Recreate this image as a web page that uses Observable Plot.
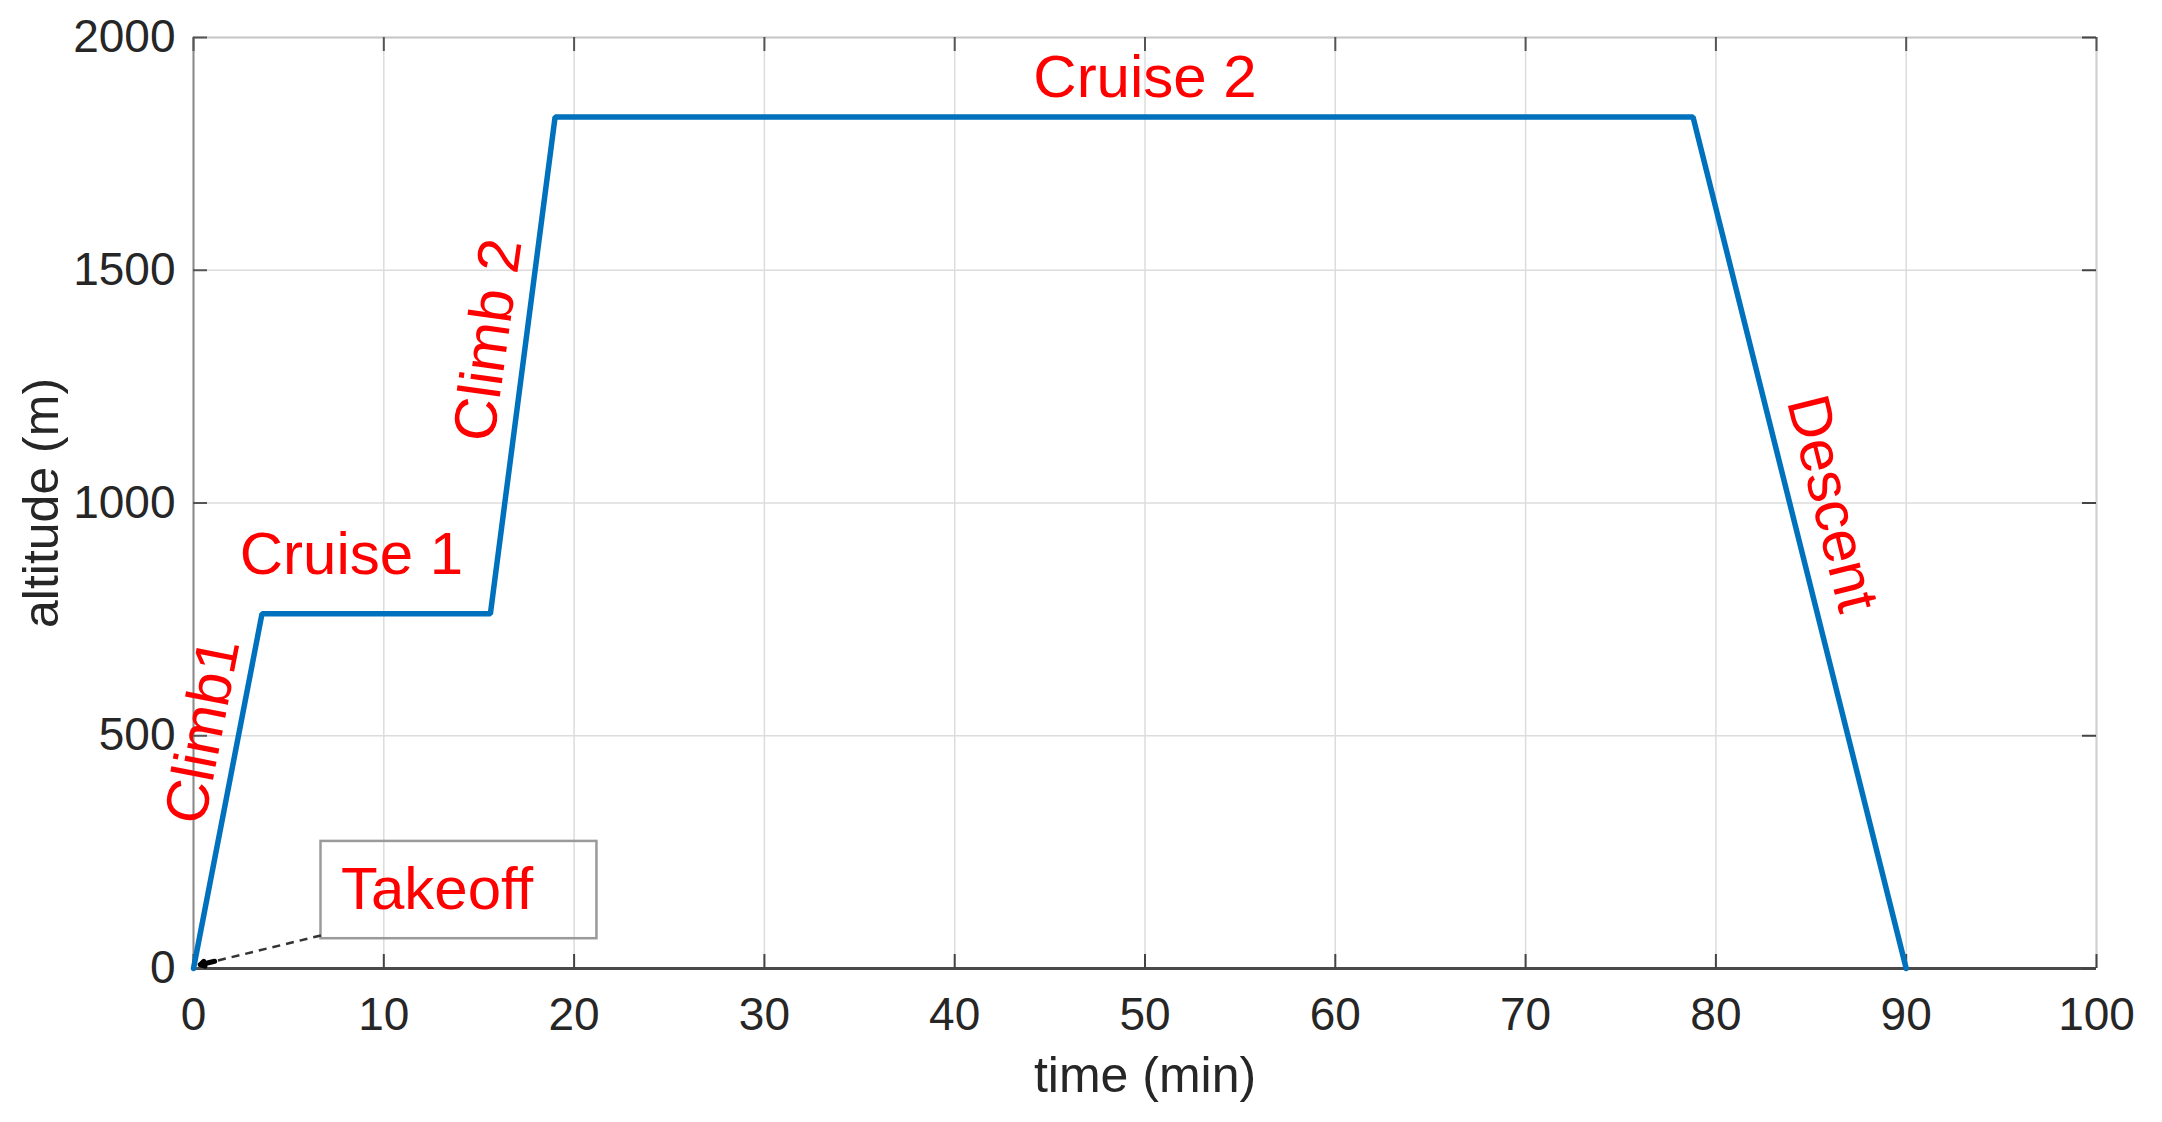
<!DOCTYPE html>
<html>
<head>
<meta charset="utf-8">
<script src="https://cdn.jsdelivr.net/npm/d3@7"></script>
<script src="https://cdn.jsdelivr.net/npm/@observablehq/plot@0.6"></script>
<style>
  html, body { margin: 0; padding: 0; background: #ffffff; }
  svg { display: block; }
</style>
</head>
<body>
<script>
// ---- data ----
const time = [0, 3.6, 15.6, 19.0, 78.8, 90.0];          // min
const altitude = [0, 762, 762, 1829, 1829, 0];          // m
const xTicks = [0, 10, 20, 30, 40, 50, 60, 70, 80, 90, 100];
const yTicks = [0, 500, 1000, 1500, 2000];
const phaseLabels = ["Climb1", "Cruise 1", "Climb 2", "Cruise 2", "Descent"];
const phaseX = [0.5, 8.3, 15.5, 50.0, 86.1];
const phaseY = [510, 889, 1350, 1913, 999];
const phaseAngle = [-79, 0, -82, 0, 76];
const takeoffLabel = ["Takeoff"];
const takeoffBoxX = [6.7, 21.2];
const takeoffBoxY = [64, 273];
const takeoffTextAt = [12.8, 168];
const takeoffArrowFrom = [6.7, 71];
const takeoffArrowTo = [0.35, 8];

// ---- derived tables ----
const profile = time.map((t, i) => ({t, a: altitude[i]}));
const labels = phaseLabels.map((s, i) => ({s, x: phaseX[i], y: phaseY[i], r: phaseAngle[i]}));
const box = [{x1: takeoffBoxX[0], x2: takeoffBoxX[1], y1: takeoffBoxY[0], y2: takeoffBoxY[1]}];
const arrowLine = [{x1: takeoffArrowFrom[0], y1: takeoffArrowFrom[1], x2: takeoffArrowTo[0], y2: takeoffArrowTo[1]}];
const headFrac = 0.12;
const arrowHead = [{
  x1: takeoffArrowTo[0] + headFrac * (takeoffArrowFrom[0] - takeoffArrowTo[0]),
  y1: takeoffArrowTo[1] + headFrac * (takeoffArrowFrom[1] - takeoffArrowTo[1]),
  x2: takeoffArrowTo[0], y2: takeoffArrowTo[1]
}];

const W = 2162, H = 1122;
const mL = 193, mR = 66, mT = 37, mB = 154;
const plotW = W - mL - mR, plotH = H - mT - mB;
const tick = 14;
const font = "'Liberation Sans', Arial, Helvetica, sans-serif";
const fmt = d => String(d);

const chart = Plot.plot({
  width: W,
  height: H,
  marginLeft: mL, marginRight: mR, marginTop: mT, marginBottom: mB,
  style: {fontFamily: font, fontSize: "46px", color: "#262626", background: "#ffffff"},
  x: {domain: [0, 100]},
  y: {domain: [0, 2000]},
  marks: [
    Plot.gridX(xTicks, {stroke: "#dcdcdc", strokeOpacity: 1, strokeWidth: 1.5}),
    Plot.gridY(yTicks, {stroke: "#dcdcdc", strokeOpacity: 1, strokeWidth: 1.5}),
    // box (top/right light, left mid, bottom dark)
    Plot.ruleY([2000], {stroke: "#c8c8c8", strokeWidth: 2}),
    Plot.ruleX([100], {stroke: "#d0d0d0", strokeWidth: 2}),
    Plot.ruleX([0], {stroke: "#8a8a8a", strokeWidth: 2}),
    Plot.ruleY([0], {stroke: "#4a4a4a", strokeWidth: 3}),
    // inward ticks
    Plot.tickX(xTicks, {x: d => d, insetTop: plotH - tick, stroke: "#444", strokeWidth: 2}),
    Plot.tickX(xTicks, {x: d => d, insetBottom: plotH - tick, stroke: "#555", strokeWidth: 2}),
    Plot.tickY(yTicks, {y: d => d, insetRight: plotW - tick, stroke: "#555", strokeWidth: 2}),
    Plot.tickY(yTicks, {y: d => d, insetLeft: plotW - tick, stroke: "#444", strokeWidth: 2}),
    // tick labels
    Plot.axisX(xTicks, {tickSize: 0, tickPadding: 29, label: null, tickFormat: fmt, fill: "#262626"}),
    Plot.axisY(yTicks, {tickSize: 0, tickPadding: 18, label: null, tickFormat: fmt, fill: "#262626"}),
    // axis titles
    Plot.text(["time (min)"], {frameAnchor: "bottom", dy: 107, textAnchor: "middle", lineAnchor: "middle", fontSize: 50, fill: "#262626"}),
    Plot.text(["altitude (m)"], {frameAnchor: "left", dx: -152, rotate: -90, textAnchor: "middle", lineAnchor: "middle", fontSize: 50, fill: "#262626"}),
    // flight profile
    Plot.line(profile, {x: "t", y: "a", stroke: "#0072BD", strokeWidth: 5.5, strokeLinejoin: "miter"}),
    // phase labels
    Plot.text(labels, {x: "x", y: "y", text: "s", rotate: "r", fill: "#ff0000", fontSize: 60}),
    // takeoff annotation
    Plot.rect(box, {x1: "x1", x2: "x2", y1: "y1", y2: "y2", fill: "none", stroke: "#9a9a9a", strokeWidth: 2.5}),
    Plot.text(takeoffLabel, {x: () => takeoffTextAt[0], y: () => takeoffTextAt[1], fill: "#ff0000", fontSize: 60}),
    Plot.link(arrowLine, {x1: "x1", y1: "y1", x2: "x2", y2: "y2", stroke: "#333", strokeWidth: 2.5, strokeDasharray: "8,6"}),
    Plot.arrow(arrowHead, {x1: "x1", y1: "y1", x2: "x2", y2: "y2", stroke: "#000", strokeWidth: 5, headLength: 16})
  ]
});
document.body.appendChild(chart);
</script>
</body>
</html>
